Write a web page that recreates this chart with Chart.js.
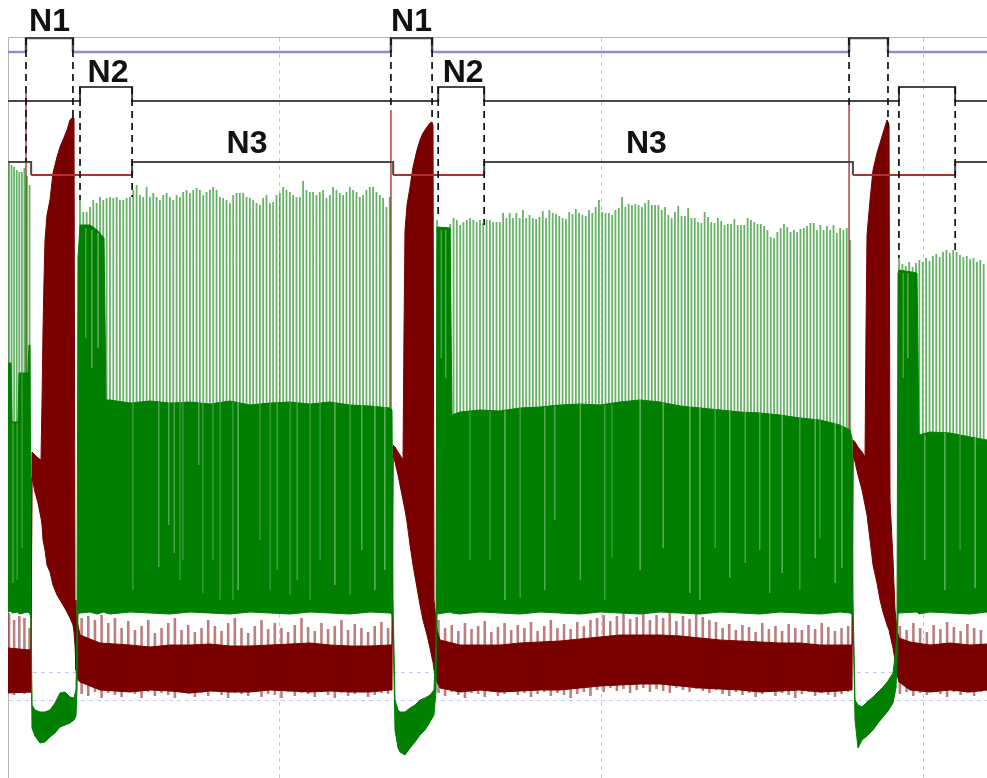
<!DOCTYPE html>
<html>
<head>
<meta charset="utf-8">
<title>N1 / N2 / N3 stimulation cycles</title>
<script src="https://cdn.jsdelivr.net/npm/chart.js@4.4.1/dist/chart.umd.min.js"></script>
<style>
  html, body { margin: 0; padding: 0; background: #ffffff; }
  #c { display: block; }
</style>
</head>
<body>
<canvas id="c" width="987" height="778"></canvas>
<script>
// ---- Stimulus windows (s) for the three cycles -------------------------
const n1On  = [12.10, 23.45, 37.70];
const n1Off = [13.56, 24.73, 38.91];
const n2On  = [13.78, 24.92, 39.25];
const n2Off = [15.40, 26.35, 41.00];
const n3Off = [12.26, 23.52, 37.82];      // N3 drops here and returns at n2Off
const labelledCycles = 2;                 // only the first two cycles carry labels

// where each dashed marker meets the traces below (trace units)
const n1OnDashEnd  = [616, 668, 673];
const n1OffDashEnd = [658, 658, 650];
const n2OnDashEnd  = [578, 560, 520];
const n2OffDashEnd = [581, 553, 528];

// red-cell onset transient at each N1 start (top of the line)
const redOnsetTop = [686, 668, 673];

// ---- Green cell: envelope of the dense firing band ---------------------
const greenT = [
  11.540, 11.633, 11.664, 11.851, 11.882, 12.162, 12.193, 12.224,
  12.255, 12.286, 12.380, 12.535, 12.691, 12.846, 13.002, 13.157, 13.313, 13.468, 13.593, 13.655, 13.686,
  13.717, 13.779, 14.091, 14.308, 14.526, 14.588, 14.713, 15.335, 15.957, 16.579, 17.201, 17.823, 18.445,
  19.067, 19.689, 20.311, 20.933, 21.555, 22.178, 22.800, 23.422, 23.484,
  23.515, 23.577, 23.671, 23.733, 23.888, 24.044, 24.199, 24.355, 24.510, 24.666, 24.790, 24.853,
  24.884, 25.288, 25.350, 25.599, 26.221, 26.843, 27.465, 28.087, 28.709, 29.331, 29.954, 30.576, 31.198,
  31.820, 32.442, 33.064, 33.686, 34.308, 34.930, 35.552, 36.174, 36.796, 37.419, 37.730, 37.792,
  37.823, 37.885, 37.978, 38.103, 38.258, 38.445, 38.600, 38.756, 38.912, 39.067, 39.160, 39.191,
  39.223, 39.254, 39.813, 39.876, 40.218, 40.840, 41.462, 41.991
];
const greenUp = [
  415, 415, 356, 356, 405, 405, 433, 433,
  178, 73, 68, 66, 66, 68, 75, 85, 86, 81, 80, 88, 150,
  520, 553, 553, 548, 540, 378, 378, 375, 377, 375, 376, 374, 377,
  373, 375, 376, 374, 376, 373, 372, 370, 368,
  178, 78, 68, 66, 66, 70, 73, 78, 80, 83, 88, 138,
  551, 550, 363, 366, 368, 367, 370, 371, 373, 374, 373, 376, 378,
  376, 372, 370, 368, 366, 365, 363, 360, 358, 353, 348, 340,
  178, 78, 73, 71, 76, 81, 86, 91, 97, 105, 130, 151,
  505, 508, 505, 343, 346, 345, 341, 338
];
const greenLo = [
  166, 167, 165, 166, 164, 166, 165, 164,
  160, 50, 42, 35, 36, 41, 45, 51, 53, 55, 58, 62, 88,
  164, 165, 166, 164, 166, 165, 164, 166, 165, 164, 166, 165, 164,
  166, 165, 164, 166, 165, 164, 166, 165, 164,
  158, 48, 30, 26, 23, 30, 36, 43, 48, 56, 63, 88,
  164, 166, 165, 164, 166, 165, 164, 166, 165, 164, 166, 165, 164,
  166, 165, 164, 166, 165, 164, 166, 165, 164, 166, 165, 164,
  160, 58, 30, 38, 42, 48, 55, 61, 67, 75, 90, 118,
  164, 165, 166, 164, 166, 165, 164, 166
];

// pale inter-spike gaps inside the dense band: time, top, bottom
const gapT = [
  11.696, 11.820, 11.975,
  13.966, 14.153, 14.339, 15.428, 16.237, 16.548, 16.703, 16.890, 16.983, 17.481, 17.605, 17.916,
  18.134, 18.538, 18.694, 19.378, 19.689, 19.907, 20.311, 20.529, 20.933, 21.244, 21.711, 22.178,
  22.551, 22.955, 23.266,
  25.008, 25.164, 25.910, 26.532, 26.999, 27.465, 28.243, 28.554, 29.331, 30.109, 30.327, 31.198,
  31.913, 32.753, 33.064, 33.531, 33.997, 34.464, 34.930, 35.241, 35.614, 36.174, 36.641, 36.796,
  37.263, 37.481,
  39.378, 39.534, 40.062, 40.684, 41.151, 41.618
];
const gapTop = [
  355, 355, 405,
  550, 548, 545, 376, 376, 376, 376, 376, 376, 376, 376, 376,
  376, 376, 376, 376, 376, 376, 376, 376, 376, 376, 376, 376,
  376, 376, 376,
  548, 548, 366, 367, 367, 370, 371, 372, 374, 373, 374, 378,
  376, 372, 370, 369, 367, 366, 365, 365, 363, 360, 359, 358,
  355, 353,
  505, 505, 343, 345, 344, 340
];
const gapBottom = [
  195, 198, 230,
  440, 410, 430, 188, 211, 253, 225, 198, 218, 313, 185, 218,
  178, 178, 188, 238, 188, 208, 183, 198, 178, 218, 193, 183,
  228, 188, 208,
  420, 400, 218, 218, 178, 180, 188, 258, 198, 178, 220, 208,
  230, 185, 178, 230, 200, 215, 228, 185, 205, 188, 220, 240,
  195, 210,
  400, 420, 218, 188, 228, 190
];

// ---- Green cell: individual spike peaks, one list per firing episode ----
const spikeStart = [11.571, 13.779, 24.884, 39.254];
const spikeStep  = [0.080, 0.1036, 0.10277, 0.1053];
const spikeBase  = 168;
const spikesA = [615, 613, 611, 608, 606, 606, 610, 602, 593];
const spikesB = [
  578, 566, 566, 571, 578, 575, 581, 578, 580, 581, 580, 581, 578, 578, 580, 581, 588, 593, 583, 581,
  591, 581, 585, 581, 578, 583, 585, 581, 578, 583, 581, 586, 588, 585, 588, 590, 588, 583, 586, 588,
  591, 588, 581, 580, 578, 575, 583,
  585, 585, 585, 581, 580, 578, 575, 573, 580, 583, 575, 576, 583, 585, 591, 588, 586, 583, 581, 581,
  597, 588, 586, 586, 583, 586, 588, 580, 583, 591, 588, 585, 583, 586, 591, 588, 586, 581, 583, 588,
  591, 591, 586, 583, 580, 571, 581
];
const spikesC = [
  558, 550, 551, 551, 554, 560, 558, 553, 556, 558, 560, 558, 556, 558, 555, 558, 558, 556, 556, 556,
  565, 560, 565, 560, 565, 560, 568, 560, 563, 560, 559, 561, 567, 560, 568, 565, 564, 562, 560, 559,
  566, 564, 569, 565, 563, 562, 568, 565, 571, 578, 566, 565, 565, 563, 568, 570, 581, 571, 574, 573,
  574,
  573, 571, 575, 578, 573, 573, 573, 568, 571, 563, 560, 566, 572, 562, 562, 570, 560, 560, 556, 555,
  566, 561, 556, 555, 560, 557, 553, 554, 554, 559, 553, 553, 553, 560, 558, 556, 554, 554, 552, 548,
  541, 540, 546, 550, 554, 551, 546, 548, 546, 549, 550, 552, 555, 555, 548, 553, 548, 552, 548, 553,
  545, 550, 548, 550, 538
];
const spikesD = [
  520, 514, 512, 516, 511, 515, 518, 516, 520, 517, 522, 524, 521, 526, 528, 525, 528, 526, 523, 521,
  522, 519, 520, 516, 518, 514, 515
];

// ---- Red cell: envelope of bursts and background activity --------------
const redT = [
  11.540, 12.224, 12.255,
  12.286, 12.380, 12.473, 12.566, 12.598, 12.629, 12.660, 12.691, 12.753, 12.846, 12.940, 13.064,
  13.157, 13.251, 13.375, 13.468, 13.562, 13.593, 13.624, 13.655, 13.717,
  13.779, 14.402, 15.335, 15.957, 16.579, 17.201, 17.823, 18.445, 19.067, 19.689, 20.311, 20.933,
  21.555, 22.178, 22.800, 23.422, 23.484,
  23.515, 23.577, 23.671, 23.733, 23.826, 23.857, 23.888, 23.951, 24.044, 24.137, 24.262, 24.355,
  24.448, 24.573, 24.666, 24.728, 24.759, 24.790, 24.853, 24.884,
  24.977, 25.599, 26.221, 26.843, 27.465, 28.087, 28.709, 29.331, 29.954, 30.576, 31.198, 31.820,
  32.442, 33.064, 33.686, 34.308, 34.930, 35.552, 36.174, 36.796, 37.419, 37.730, 37.792,
  37.823, 37.885, 37.978, 38.103, 38.196, 38.227, 38.258, 38.352, 38.445, 38.569, 38.663, 38.756,
  38.880, 38.943, 38.974, 39.067, 39.129, 39.191, 39.254,
  39.596, 40.218, 40.840, 41.462, 41.991
];
const redUp = [
  130, 128, 130,
  326, 323, 320, 318, 378, 448, 498, 538, 563, 578, 605, 621,
  631, 638, 648, 658, 661, 660, 178, 163, 153,
  143, 135, 133, 131, 133, 133, 134, 132, 132, 133, 134, 135,
  133, 132, 132, 133, 133,
  333, 331, 326, 323, 318, 448, 548, 573, 591, 611, 628, 638,
  645, 651, 655, 656, 653, 178, 158, 148,
  138, 133, 133, 133, 135, 136, 137, 139, 141, 143, 143, 143,
  142, 140, 138, 137, 136, 135, 135, 133, 133, 133, 133,
  338, 336, 331, 326, 321, 448, 543, 578, 608, 625, 635, 645,
  658, 653, 278, 218, 168, 148, 140,
  136, 133, 135, 133, 134
];
const redLo = [
  85, 86, 86,
  300, 286, 275, 260, 253, 238, 233, 228, 213, 206, 193, 183,
  178, 173, 166, 160, 153, 146, 133, 108, 98,
  96, 88, 86, 88, 87, 85, 87, 86, 86, 88, 87, 86,
  87, 86, 86, 88, 88,
  323, 316, 303, 293, 278, 273, 268, 256, 233, 213, 190, 173,
  158, 143, 130, 120, 116, 108, 100, 96,
  90, 86, 88, 86, 87, 88, 88, 90, 92, 93, 94, 94,
  92, 90, 89, 88, 86, 87, 88, 86, 87, 88, 88,
  323, 316, 303, 288, 273, 268, 263, 238, 213, 195, 178, 166,
  153, 148, 143, 130, 118, 103, 96,
  88, 86, 88, 86, 88
];

// ---- Red cell: small events riding on the background band ---------------
const redEvtStart = [11.571, 13.830, 24.930, 39.280];
const redEvtStep  = [0.160, 0.2072, 0.2055, 0.2100];
const redPeaksA = [165, 158, 162, 160, 150];
const redTroughsA = [86, 83, 87, 84, 85];
const redPeaksB = [
  160, 162, 158, 163, 155, 160, 150, 157, 148, 152, 158, 145, 150, 155, 160, 148, 153, 146, 150, 158,
  152, 147, 155, 160, 150, 145, 152, 158, 149, 155, 150, 146, 153, 160, 151, 147, 155, 149, 152, 158,
  148, 154, 150, 146, 152, 156, 150
];
const redTroughsB = [
  84, 82, 86, 80, 85, 83, 81, 87, 84, 80, 86, 82, 85, 83, 80, 86, 84, 81, 85, 82,
  87, 83, 80, 85, 84, 82, 86, 81, 84, 83, 80, 86, 82, 85, 84, 81, 86, 83, 80, 85,
  82, 84, 86, 81, 83, 85, 84
];
const redPeaksC = [
  158, 150, 153, 147, 155, 149, 152, 157, 146, 151, 155, 148, 153, 150, 156, 147, 152, 158, 150, 154,
  149, 156, 152, 158,
  160, 163, 157, 162, 165, 159, 161, 164, 158, 163, 160, 166, 157, 162, 159, 164, 161, 158, 156,
  150, 154, 148, 153, 151, 146, 155, 149, 152, 147, 154, 150, 148, 153, 149, 155, 151, 147, 150, 152
];
const redTroughsC = [
  85, 82, 86, 83, 80, 85, 84, 81, 86, 82, 84, 87, 83, 85, 81, 84, 86, 82, 85, 83,
  80, 84, 86, 82,
  88, 86, 90, 87, 89, 85, 88, 90, 86, 89, 87, 85, 90, 88, 86, 89, 87, 85, 88,
  84, 82, 86, 83, 85, 81, 84, 86, 82, 85, 83, 80, 84, 86, 82, 85, 83, 81, 84, 86
];
const redPeaksD = [152, 148, 155, 150, 146, 153, 149, 156, 151, 147, 154, 150, 148];
const redTroughsD = [84, 86, 82, 85, 83, 87, 84, 81, 86, 83, 85, 82, 86];

// ---- channel offsets of the stimulus rows (trace units) ----------------
const N1_BASE = 726, N1_HIGH = 740;
const N2_BASE = 677, N2_HIGH = 691;
const N3_BASE = 616, N3_LOW  = 603;
const X_MIN = 11.54, X_MAX = 41.99;

// ---- colours ------------------------------------------------------------
const GREEN = '#007f00';
const GREEN_SPIKE = 'rgba(0,128,0,0.6)';
const RED = '#7a0000';
const RED_EVENT = 'rgba(122,0,0,0.5)';
const STIM_BLUE = '#8c8cd8';
const STIM_GRAY = '#484848';

// ---- builders -----------------------------------------------------------
const pts = (xs, ys) => xs.map((x, i) => ({ x, y: ys[i] }));

// every spike is its own vertical stroke (null breaks the path between spikes)
function spikeTrain() {
  const out = [];
  [spikesA, spikesB, spikesC, spikesD].forEach((peaks, s) => {
    peaks.forEach((p, i) => {
      const x = spikeStart[s] + i * spikeStep[s];
      out.push({ x, y: spikeBase }, { x, y: p }, { x, y: null });
    });
  });
  return out;
}

function redEvents() {
  const out = [];
  const peaks = [redPeaksA, redPeaksB, redPeaksC, redPeaksD];
  const troughs = [redTroughsA, redTroughsB, redTroughsC, redTroughsD];
  peaks.forEach((seg, s) => {
    seg.forEach((p, i) => {
      const x = redEvtStart[s] + i * redEvtStep[s];
      out.push({ x, y: troughs[s][i] }, { x, y: p }, { x, y: null });
    });
  });
  return out;
}

function verticals(ts, tops, bottoms) {
  const out = [];
  ts.forEach((t, i) => out.push({ x: t, y: tops[i] }, { x: t, y: bottoms[i] }, { x: t, y: null }));
  return out;
}

function stepChannel(base, level, ons, offs) {
  const out = [{ x: X_MIN, y: base }];
  ons.forEach((t, i) => {
    out.push({ x: t, y: base }, { x: t, y: level }, { x: offs[i], y: level }, { x: offs[i], y: base });
  });
  out.push({ x: X_MAX, y: base });
  return out;
}

function dashedMarkers() {
  const out = [];
  for (let i = 0; i < n1On.length; i++) {
    out.push({ x: n1On[i], y: N1_HIGH }, { x: n1On[i], y: n1OnDashEnd[i] }, { x: n1On[i], y: null });
    out.push({ x: n1Off[i], y: N1_HIGH }, { x: n1Off[i], y: n1OffDashEnd[i] }, { x: n1Off[i], y: null });
    out.push({ x: n2On[i], y: N2_HIGH }, { x: n2On[i], y: n2OnDashEnd[i] }, { x: n2On[i], y: null });
    out.push({ x: n2Off[i], y: N2_HIGH }, { x: n2Off[i], y: n2OffDashEnd[i] }, { x: n2Off[i], y: null });
  }
  return out;
}

const flat = { pointRadius: 0, pointHoverRadius: 0, tension: 0, spanGaps: false };

const datasets = [
  // dashed stimulus markers (top layer)
  { ...flat, data: dashedMarkers(), borderColor: '#111111', borderWidth: 1.7, borderDash: [7, 5], fill: false, order: 0 },
  // stimulus rows
  { ...flat, data: stepChannel(N1_BASE, N1_HIGH, n1On, n1Off), borderWidth: 2.4, fill: false, order: 1,
    segment: { borderColor: c => (c.p0.parsed.y === N1_BASE && c.p1.parsed.y === N1_BASE) ? STIM_BLUE : STIM_GRAY } },
  { ...flat, data: stepChannel(N2_BASE, N2_HIGH, n2On, n2Off), borderColor: STIM_GRAY, borderWidth: 2, fill: false, order: 1 },
  { ...flat, data: stepChannel(N3_BASE, N3_LOW, n3Off, n2Off), borderWidth: 2, fill: false, order: 1,
    segment: { borderColor: c => (c.p0.parsed.y === N3_LOW && c.p1.parsed.y === N3_LOW) ? '#b03030' : STIM_GRAY } },
  // green cell spikes
  { ...flat, data: spikeTrain(), borderColor: GREEN_SPIKE, borderWidth: 1.8, fill: false, order: 2 },
  // pale gaps between spikes inside the dense band
  { ...flat, data: verticals(gapT, gapTop, gapBottom), borderColor: 'rgba(255,255,255,0.5)', borderWidth: 1.3, fill: false, order: 2.5 },
  // green cell dense band (upper fills to lower)
  { ...flat, data: pts(greenT, greenUp), borderColor: GREEN, backgroundColor: GREEN, borderWidth: 1, fill: '+1', order: 3 },
  { ...flat, data: pts(greenT, greenLo), borderColor: GREEN, borderWidth: 1, fill: false, order: 3 },
  // red cell onset transients
  { ...flat, data: verticals(n1On, redOnsetTop, [178, 178, 178]), borderColor: 'rgba(150,20,20,0.8)', borderWidth: 1.5, fill: false, order: 5 },
  // red cell small events
  { ...flat, data: redEvents(), borderColor: RED_EVENT, borderWidth: 2.6, fill: false, order: 5.5 },
  // red cell bursts and background band
  { ...flat, data: pts(redT, redUp), borderColor: RED, backgroundColor: RED, borderWidth: 1, fill: '+1', order: 6 },
  { ...flat, data: pts(redT, redLo), borderColor: RED, borderWidth: 1, fill: false, order: 6 }
];

// text labels above the stimulus rows, placed through the chart scales
const stimLabels = {
  id: 'stimLabels',
  afterDatasetsDraw(chart) {
    const { ctx, scales: { x, y } } = chart;
    ctx.save();
    ctx.font = 'bold 32px "Liberation Sans", Arial, sans-serif';
    ctx.fillStyle = '#111111';
    ctx.textAlign = 'center';
    ctx.textBaseline = 'alphabetic';
    for (let i = 0; i < labelledCycles; i++) {
      ctx.fillText('N1', x.getPixelForValue((n1On[i] + n1Off[i]) / 2), y.getPixelForValue(N1_HIGH) - 7);
      ctx.fillText('N2', x.getPixelForValue((n2On[i] + n2Off[i]) / 2) + 2, y.getPixelForValue(N2_HIGH) - 5);
      const n3Mid = n2Off[i] + 0.44 * (n3Off[i + 1] - n2Off[i]);
      ctx.fillText('N3', x.getPixelForValue(n3Mid), y.getPixelForValue(N3_BASE) - 9);
    }
    ctx.restore();
  }
};

new Chart(document.getElementById('c'), {
  type: 'line',
  data: { datasets },
  options: {
    responsive: false,
    animation: false,
    devicePixelRatio: 1,
    events: [],
    layout: { padding: { left: 8, top: 37, right: 0, bottom: 0 } },
    plugins: { legend: { display: false }, tooltip: { enabled: false } },
    scales: {
      x: {
        type: 'linear', position: 'top', min: X_MIN, max: X_MAX,
        afterBuildTicks: s => { s.ticks = [20, 30, 40].map(v => ({ value: v })); },
        ticks: { display: false },
        grid: { drawTicks: false, color: 'rgba(150,150,225,0.55)', lineWidth: 1 },
        border: { display: true, color: '#b4b4b4', width: 1, dash: [4, 4] }
      },
      y: {
        type: 'linear', min: 0, max: 741,
        afterBuildTicks: s => { s.ticks = [78, 106].map(v => ({ value: v })); },
        ticks: { display: false },
        grid: { drawTicks: false, color: 'rgba(150,150,225,0.55)', lineWidth: 1 },
        border: { display: true, color: '#b4b4b4', width: 1, dash: [4, 4] }
      }
    }
  },
  plugins: [stimLabels]
});
</script>
</body>
</html>
